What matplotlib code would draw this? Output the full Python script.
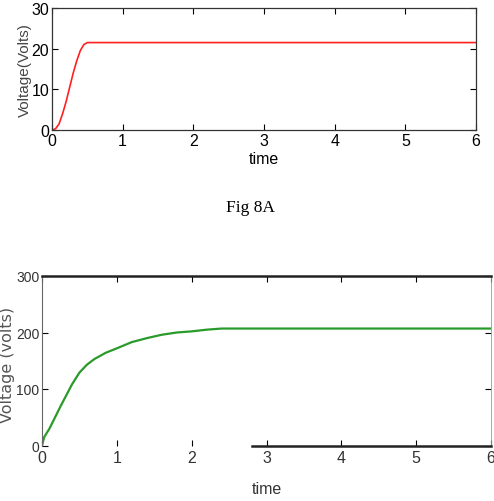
import matplotlib
matplotlib.use("Agg")
import matplotlib.pyplot as plt
from matplotlib import font_manager

names = {f.name for f in font_manager.fontManager.ttflist}
if "Liberation Sans Narrow" in names:
    sans = "Liberation Sans Narrow"
elif "DejaVu Sans Condensed" in names:
    sans = "DejaVu Sans Condensed"
else:
    sans = "Liberation Sans"

# Data (Fig 8A)
t_a = [0, 0.05, 0.1, 0.15, 0.2, 0.25, 0.3, 0.35, 0.4, 0.45, 0.5, 6]
v_a = [0, 0.3, 1.5, 4, 7, 10.5, 14, 17, 19.5, 21, 21.5, 21.5]

# Data (bottom figure)
t_b = [0, 0.03, 0.1, 0.25, 0.4, 0.5, 0.6, 0.7, 0.85, 1.0, 1.2, 1.4, 1.6, 1.8, 2.0, 2.2, 2.4, 6]
v_b = [0, 15, 30, 70, 108, 129, 143, 153, 164, 172, 183, 190, 196, 200, 202, 205, 207, 207]

xticks = [0, 1, 2, 3, 4, 5, 6]
yticks_a = [0, 10, 20, 30]
yticks_b = [0, 100, 200, 300]

fig = plt.figure(figsize=(4.94, 5.02), dpi=100)

ax1 = fig.add_axes([52/494, 1-131/502, (476-52)/494, (131-9)/502])
ax1.plot(t_a, v_a, color="#ff2020", lw=1.2)
ax1.set_xlim(0, 6)
ax1.set_ylim(0, 30)
ax1.set_xticks(xticks)
ax1.set_yticks(yticks_a)
ax1.tick_params(direction="in", top=True, right=True, length=4, labelsize=11.5, pad=2)
for lab in ax1.get_xticklabels() + ax1.get_yticklabels():
    lab.set_fontfamily(sans)
for s in ax1.spines.values():
    s.set_color("#333333")
    s.set_linewidth(0.9)
ax1.set_xlabel("time", fontfamily=sans, fontsize=11.5, labelpad=2)
ax1.set_ylabel("Voltage(Volts)", fontfamily=sans, fontsize=11, color="#444444")
ax1.yaxis.set_label_coords(-0.047, 0.5)

fig.text(250/494, 1-208/502, "Fig 8A", ha="center", va="center",
         fontfamily="Liberation Serif", fontsize=12.5)

ax2 = fig.add_axes([42/494, 1-446.5/502, (491-42)/494, (446.5-277)/502])
ax2.plot(t_b, v_b, color="#2a9a2a", lw=1.6)
ax2.set_xlim(0, 6)
ax2.set_ylim(0, 300)
ax2.set_xticks(xticks)
ax2.set_yticks(yticks_b)
ax2.tick_params(axis="x", direction="in", top=True, length=4, labelsize=11.5, pad=3)
ax2.tick_params(axis="y", direction="in", right=True, length=4, labelsize=10, pad=2)
for lab in ax2.get_xticklabels() + ax2.get_yticklabels():
    lab.set_fontfamily(sans)
    lab.set_color("#333333")
ax2.spines["top"].set_linewidth(1.8)
ax2.spines["top"].set_color("#222222")
ax2.spines["bottom"].set_bounds(2.8, 6)
ax2.spines["bottom"].set_linewidth(1.8)
ax2.spines["bottom"].set_color("#222222")
ax2.spines["left"].set_color("#666666")
ax2.spines["left"].set_linewidth(0.8)
ax2.spines["right"].set_color("#999999")
ax2.spines["right"].set_linewidth(0.6)
ax2.set_xlabel("time", fontfamily=sans, fontsize=11.5, labelpad=12, color="#333333")
fig.text(8/494, 1-365/502, "Voltage (volts)", rotation=90, ha="center", va="center",
         fontfamily="DejaVu Sans", fontsize=11.5, color="#555555")

fig.savefig("out.png", dpi=100)
